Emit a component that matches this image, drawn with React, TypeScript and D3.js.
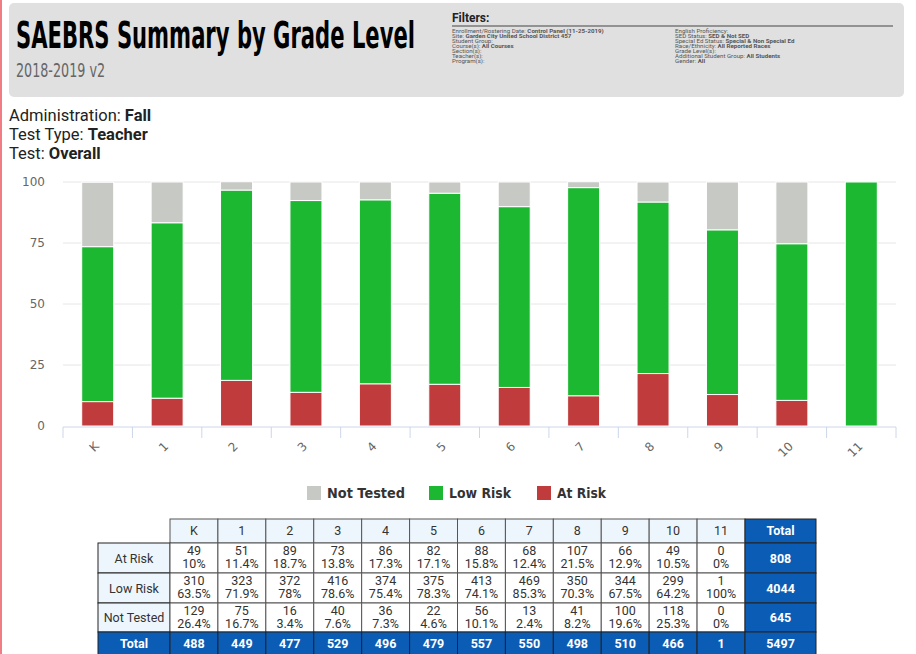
import React from "react";
import * as d3 from "d3";

const grades = ["K", "1", "2", "3", "4", "5", "6", "7", "8", "9", "10", "11"];
const atRiskN = [49, 51, 89, 73, 86, 82, 88, 68, 107, 66, 49, 0];
const atRiskPct = [10, 11.4, 18.7, 13.8, 17.3, 17.1, 15.8, 12.4, 21.5, 12.9, 10.5, 0];
const lowRiskN = [310, 323, 372, 416, 374, 375, 413, 469, 350, 344, 299, 1];
const lowRiskPct = [63.5, 71.9, 78, 78.6, 75.4, 78.3, 74.1, 85.3, 70.3, 67.5, 64.2, 100];
const notTestedN = [129, 75, 16, 40, 36, 22, 56, 13, 41, 100, 118, 0];
const notTestedPct = [26.4, 16.7, 3.4, 7.6, 7.3, 4.6, 10.1, 2.4, 8.2, 19.6, 25.3, 0];
const gradeTotals = [488, 449, 477, 529, 496, 479, 557, 550, 498, 510, 466, 1];
const rowTotals = [808, 4044, 645];
const grandTotal = 5497;
const yTicks = [0, 25, 50, 75, 100];
const seriesNames = ["At Risk", "Low Risk", "Not Tested"];
const seriesColors = ["#c03b3b", "#1cb832", "#c6c9c4"];
const legendOrder = [2, 1, 0];

const filtersLeft: [string, string][] = [
  ["Enrollment/Rostering Date: ", "Control Panel (11-25-2019)"],
  ["Site: ", "Garden City United School District 457"],
  ["Student Group:", ""],
  ["Course(s): ", "All Courses"],
  ["Section(s):", ""],
  ["Teacher(s):", ""],
  ["Program(s):", ""],
];
const filtersRight: [string, string][] = [
  ["English Proficiency:", ""],
  ["SED Status: ", "SED & Not SED"],
  ["Special Ed Status: ", "Special & Non Special Ed"],
  ["Race/Ethnicity: ", "All Reported Races"],
  ["Grade Level(s):", ""],
  ["Additional Student Group: ", "All Students"],
  ["Gender: ", "All"],
];

export default function App() {
  const W = 916, H = 654;
  const x = d3.scaleBand<string>().domain(grades).range([63, 896]).paddingInner(0).paddingOuter(0);
  const y = d3.scaleLinear().domain([0, 100]).range([426, 182]);
  const barW = 32;

  const rows = grades.map((g, i) => ({ grade: g, s0: atRiskPct[i], s1: lowRiskPct[i], s2: notTestedPct[i] }));
  const stack = d3.stack<any>().keys(["s0", "s1", "s2"])(rows);

  const tx = d3.scaleBand<string>().domain(grades).range([170, 745]);
  const rowTops = [543, 573, 603, 632];
  const rowBottoms = [573, 603, 632, 656];
  const counts = [atRiskN, lowRiskN, notTestedN];
  const pcts = [atRiskPct, lowRiskPct, notTestedPct];
  const blue = "#0b5cb5";
  const light = "#eef6fd";
  const tf = "Roboto, 'Noto Sans', sans-serif";
  const axisFont = "'DejaVu Sans', Verdana, sans-serif";
  const condensed = "'Liberation Sans Narrow', 'DejaVu Sans Condensed', 'Liberation Sans', sans-serif";

  const filterLine = (items: [string, string][], x0: number) => (
    <g transform={`translate(${x0},0) scale(1.1,1)`}>
      {items.map((it, i) => (
        <text key={i} x={0} y={33.5 + i * 4.9} fontSize={5.6} fill="#555" fontFamily={tf}>
          {it[0]}
          {it[1] && <tspan fontWeight="bold">{it[1]}</tspan>}
        </text>
      ))}
    </g>
  );

  return (
    <div style={{ position: "absolute", left: 0, top: 0, width: W, height: H }}>
      <svg width={W} height={H} style={{ display: "block" }}>
        <rect x={0} y={0} width={W} height={H} fill="#fff" />
        <rect x={0} y={0} width={2} height={H} fill="#f07c84" />
        {/* header */}
        <rect x={9} y={3} width={895} height={94} rx={5} fill="#e0e0e0" />
        <text x={16} y={48} fontSize={38} fontWeight="bold" fill="#000" fontFamily={condensed}
          textLength={399} lengthAdjust="spacingAndGlyphs">SAEBRS Summary by Grade Level</text>
        <text x={16} y={77} fontSize={20} fill="#666" fontFamily={condensed}
          textLength={89} lengthAdjust="spacingAndGlyphs">2018-2019 v2</text>
        <text x={452} y={22} fontSize={12} fontWeight="bold" fill="#222" fontFamily={tf}>Filters:</text>
        <line x1={452} x2={893} y1={26} y2={26} stroke="#444" strokeWidth={1} />
        {filterLine(filtersLeft, 452)}
        {filterLine(filtersRight, 675)}
        {/* admin text */}
        <text x={9} y={121} fontSize={16.5} fill="#222" fontFamily={tf}>Administration: <tspan fontWeight="bold">Fall</tspan></text>
        <text x={9} y={140} fontSize={16.5} fill="#222" fontFamily={tf}>Test Type: <tspan fontWeight="bold">Teacher</tspan></text>
        <text x={9} y={159} fontSize={16.5} fill="#222" fontFamily={tf}>Test: <tspan fontWeight="bold">Overall</tspan></text>
        {/* grid & y labels */}
        {yTicks.map((t) => (
          <g key={t}>
            {t > 0 && <line x1={63} x2={896} y1={y(t)} y2={y(t)} stroke="#e6e6e6" strokeWidth={1} />}
            <text x={45} y={y(t) + 4} textAnchor="end" fontSize={12} fill="#666" fontFamily={axisFont}>{t}</text>
          </g>
        ))}
        {/* bars */}
        {stack.map((layer, si) => (
          <g key={si}>
            {layer.map((d, i) => {
              const h = y(d[0]) - y(d[1]);
              if (h <= 0) return null;
              return (
                <rect key={i} x={(x(grades[i]) as number) + x.bandwidth() / 2 - barW / 2} y={y(d[1])}
                  width={barW} height={h} fill={seriesColors[si]} stroke="#fff" strokeWidth={1} />
              );
            })}
          </g>
        ))}
        {/* x axis */}
        <line x1={63} x2={896} y1={427} y2={427} stroke="#ccd6eb" strokeWidth={1} />
        {grades.map((g, i) => (
          <line key={"t" + i} x1={x(g)} x2={x(g)} y1={427} y2={438} stroke="#ccd6eb" strokeWidth={1} />
        ))}
        <line x1={896} x2={896} y1={427} y2={438} stroke="#ccd6eb" strokeWidth={1} />
        {grades.map((g) => {
          const cx = (x(g) as number) + x.bandwidth() / 2;
          return (
            <text key={"l" + g} transform={`translate(${cx + 2},${447}) rotate(-45)`} textAnchor="end"
              fontSize={12} fill="#666" fontFamily={axisFont}>{g}</text>
          );
        })}
        {/* legend */}
        {legendOrder.map((si, k) => {
          const lx = [307, 429, 537][k];
          return (
            <g key={"lg" + si}>
              <rect x={lx} y={486} width={14} height={14} fill={seriesColors[si]} />
              <text x={lx + 20} y={498} fontSize={14} fontWeight="bold" fill="#333" fontFamily={axisFont}
                textLength={[78, 62, 49][k]} lengthAdjust="spacingAndGlyphs">{seriesNames[si]}</text>
            </g>
          );
        })}
        {/* table header */}
        {grades.map((g) => (
          <g key={"h" + g}>
            <rect x={tx(g)} y={519} width={tx.bandwidth()} height={24} fill={light} stroke="#555" strokeWidth={1} />
            <text x={(tx(g) as number) + tx.bandwidth() / 2} y={535} textAnchor="middle" fontSize={12.5} fill="#333" fontFamily={tf}>{g}</text>
          </g>
        ))}
        <rect x={745} y={519} width={71} height={24} fill={blue} stroke="#222" strokeWidth={1} />
        <text x={780.5} y={535} textAnchor="middle" fontSize={12.5} fontWeight="bold" fill="#fff" fontFamily={tf}>Total</text>
        {/* body rows */}
        {seriesNames.map((name, r) => (
          <g key={"r" + r}>
            <rect x={98} y={rowTops[r]} width={72} height={rowBottoms[r] - rowTops[r]} fill={light} stroke="#222" strokeWidth={1} />
            <text x={134} y={(rowTops[r] + rowBottoms[r]) / 2 + 4.5} textAnchor="middle" fontSize={12.5} fill="#333" fontFamily={tf}>{name}</text>
            {grades.map((g, i) => (
              <g key={g}>
                <rect x={tx(g)} y={rowTops[r]} width={tx.bandwidth()} height={rowBottoms[r] - rowTops[r]} fill="#fff" stroke="#555" strokeWidth={1} />
                <text x={(tx(g) as number) + tx.bandwidth() / 2} y={rowTops[r] + 12} textAnchor="middle" fontSize={12.5} fill="#333" fontFamily={tf}>{counts[r][i]}</text>
                <text x={(tx(g) as number) + tx.bandwidth() / 2} y={rowTops[r] + 25} textAnchor="middle" fontSize={12.5} fill="#333" fontFamily={tf}>{pcts[r][i] + "%"}</text>
              </g>
            ))}
            <rect x={745} y={rowTops[r]} width={71} height={rowBottoms[r] - rowTops[r]} fill={blue} stroke="#222" strokeWidth={1} />
            <text x={780.5} y={(rowTops[r] + rowBottoms[r]) / 2 + 4.5} textAnchor="middle" fontSize={12.5} fontWeight="bold" fill="#fff" fontFamily={tf}>{rowTotals[r]}</text>
          </g>
        ))}
        {/* total row */}
        <rect x={98} y={632} width={72} height={24} fill={blue} stroke="#222" strokeWidth={1} />
        <text x={134} y={648} textAnchor="middle" fontSize={12.5} fontWeight="bold" fill="#fff" fontFamily={tf}>Total</text>
        {grades.map((g, i) => (
          <g key={"tt" + g}>
            <rect x={tx(g)} y={632} width={tx.bandwidth()} height={24} fill={blue} stroke="#222" strokeWidth={1} />
            <text x={(tx(g) as number) + tx.bandwidth() / 2} y={648} textAnchor="middle" fontSize={12.5} fontWeight="bold" fill="#fff" fontFamily={tf}>{gradeTotals[i]}</text>
          </g>
        ))}
        <rect x={745} y={632} width={71} height={24} fill={blue} stroke="#222" strokeWidth={1} />
        <text x={780.5} y={648} textAnchor="middle" fontSize={12.5} fontWeight="bold" fill="#fff" fontFamily={tf}>{grandTotal}</text>
      </svg>
    </div>
  );
}
